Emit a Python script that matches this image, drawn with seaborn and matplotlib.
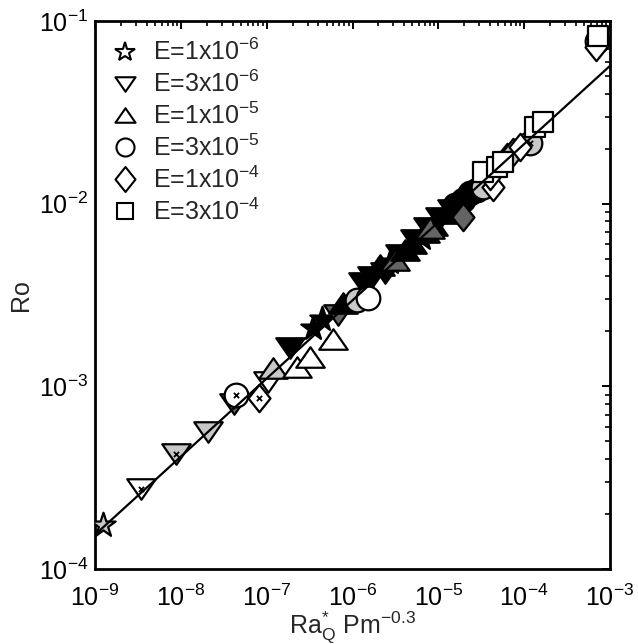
import numpy as np
import pandas as pd
import matplotlib
matplotlib.use("Agg")
import matplotlib.pyplot as plt
import seaborn as sns
from matplotlib.path import Path
from matplotlib.lines import Line2D

# ---------------- data ----------------
# E = 1e-6 (stars)
e1m6_x = [1.24e-9, 3.47e-7, 4.43e-7, 2.74e-6, 6.48e-6]
e1m6_y = [1.74e-4, 2.09e-3, 2.35e-3, 4.8e-3, 6.49e-3]
e1m6_fill = ["lg", "k", "k", "k", "k"]
e1m6_cross = [0, 0, 0, 0, 0]

# E = 3e-6 (down triangles)
e3m6_x = [3.44e-9, 8.79e-9, 2.07e-8, 4.17e-8, 1.04e-7, 1.88e-7, 6.8e-7, 1.33e-6,
          1.69e-6, 2.4e-6, 3.59e-6, 5.37e-6, 7.6e-6, 1.05e-5, 1.45e-5]
e3m6_y = [2.74e-4, 4.27e-4, 5.62e-4, 8.0e-4, 1.06e-3, 1.62e-3, 2.46e-3, 3.68e-3,
          3.97e-3, 4.18e-3, 5.24e-3, 6.33e-3, 7.36e-3, 8.36e-3, 9.24e-3]
e3m6_fill = ["w", "lg", "lg", "dg", "w", "k", "dg", "k",
             "k", "k", "k", "k", "k", "k", "k"]
e3m6_cross = [1, 1, 0, 0, 0, 0, 0, 0, 0, 0, 0, 0, 0, 0, 0]

# E = 1e-5 (up triangles)
e1m5_x = [1.19e-7, 2.26e-7, 5.94e-7, 3.2e-7, 7.77e-7, 2.1e-6, 3.14e-6, 4.1e-6,
          4.95e-6, 7.01e-6, 8.69e-6, 8.02e-6, 1.27e-5]
e1m5_y = [1.26e-3, 1.28e-3, 1.82e-3, 1.45e-3, 2.86e-3, 4.62e-3, 4.92e-3, 5.58e-3,
          6.09e-3, 7.0e-3, 7.64e-3, 7.36e-3, 8.9e-3]
e1m5_fill = ["lg", "w", "w", "w", "k", "k", "dg", "k", "k", "k", "k", "dg", "k"]
e1m5_cross = [0] * 13

# E = 3e-5 (circles)
e3m5_x = [4.4e-8, 1.13e-6, 1.52e-6, 1.57e-5, 1.95e-5, 2.35e-5, 2.83e-5, 3.33e-5, 1.17e-4, 7.1e-4]
e3m5_y = [8.97e-4, 2.97e-3, 3.05e-3, 9.84e-3, 1.05e-2, 1.15e-2, 1.19e-2, 1.23e-2, 2.15e-2, 7.78e-2]
e3m5_fill = ["w", "lg", "w", "k", "k", "k", "k", "lg", "lg", "w"]
e3m5_cross = [1, 0, 0, 0, 0, 0, 0, 0, 1, 1]

# E = 1e-4 (diamonds)
e1m4_x = [8.15e-8, 1.95e-5, 4.36e-5, 4.02e-5, 6.34e-5, 7.45e-5, 8.97e-5, 6.9e-4]
e1m4_y = [8.65e-4, 8.45e-3, 1.23e-2, 1.42e-2, 1.80e-2, 1.92e-2, 2.04e-2, 7.21e-2]
e1m4_fill = ["w", "dg", "w", "w", "lg", "lg", "w", "w"]
e1m4_cross = [1, 0, 0, 0, 0, 0, 0, 0]

# E = 3e-4 (squares)
e3m4_x = [3.33e-5, 4.84e-5, 5.69e-5, 1.35e-4, 1.65e-4, 7.3e-4]
e3m4_y = [1.49e-2, 1.59e-2, 1.69e-2, 2.63e-2, 2.80e-2, 8.28e-2]
e3m4_fill = ["w", "w", "w", "w", "w", "w"]
e3m4_cross = [0, 0, 0, 0, 0, 0]

# fit line (end points)
fit_x = [1e-9, 1e-3]
fit_y = [1.54e-4, 5.68e-2]

x_ticks = [1e-9, 1e-8, 1e-7, 1e-6, 1e-5, 1e-4, 1e-3]
y_ticks = [1e-4, 1e-3, 1e-2, 1e-1]

labels = [r"E=1x10$^{-6}$", r"E=3x10$^{-6}$", r"E=1x10$^{-5}$",
          r"E=3x10$^{-5}$", r"E=1x10$^{-4}$", r"E=3x10$^{-4}$"]

# ---------------- style ----------------
sns.set_style("white")
plt.rcParams["font.family"] = ["Liberation Sans", "DejaVu Sans"]
plt.rcParams["mathtext.fontset"] = "custom"
plt.rcParams["mathtext.rm"] = "Liberation Sans"
plt.rcParams["mathtext.it"] = "Liberation Sans"
plt.rcParams["mathtext.bf"] = "Liberation Sans:bold"
FS = 18
plt.rcParams["font.size"] = FS

fills = {"w": "#ffffff", "lg": "#c8c8c8", "dg": "#646464", "k": "#000000"}

tri_down = Path([(-1, 0.72), (1, 0.72), (0, -0.72), (-1, 0.72)], closed=True)
tri_up = Path([(-1, -0.72), (1, -0.72), (0, 0.72), (-1, -0.72)], closed=True)
diamond = Path([(0, 1), (0.8, 0), (0, -1), (-0.8, 0), (0, 1)], closed=True)

groups = [
    (e1m6_x, e1m6_y, e1m6_fill, e1m6_cross, "*", 340, 14.5),
    (e3m6_x, e3m6_y, e3m6_fill, e3m6_cross, tri_down, 420, 14.5),
    (e1m5_x, e1m5_y, e1m5_fill, e1m5_cross, tri_up, 420, 14.5),
    (e3m5_x, e3m5_y, e3m5_fill, e3m5_cross, "o", 290, 13),
    (e1m4_x, e1m4_y, e1m4_fill, e1m4_cross, diamond, 390, 18),
    (e3m4_x, e3m4_y, e3m4_fill, e3m4_cross, "s", 195, 11),
]

fig = plt.figure(figsize=(6.38, 6.44), dpi=100)
ax = fig.add_axes([95 / 638, 1 - 569 / 644, 515 / 638, 548 / 644])
ax.set_xscale("log")
ax.set_yscale("log")

sns.lineplot(x=fit_x, y=fit_y, color="k", linewidth=1.6, ax=ax, legend=False, zorder=50)

z = 4
for gx, gy, gf, gc, mk, sz, _ in groups:
    df = pd.DataFrame({"x": gx, "y": gy, "fill": gf, "cross": gc})
    for i in range(len(df)):
        row = df.iloc[[i]]
        sns.scatterplot(data=row, x="x", y="y", marker=mk, s=sz,
                        color=fills[row["fill"].iloc[0]], edgecolor="k",
                        linewidth=1.6, ax=ax, legend=False, zorder=z)
        z += 0.01
        if row["cross"].iloc[0]:
            sns.scatterplot(data=row, x="x", y="y", marker="x", s=14,
                            color="k", linewidth=1.3, ax=ax, legend=False, zorder=z)
            z += 0.01

ax.set_xlim(1e-9, 1e-3)
ax.set_ylim(1e-4, 1e-1)

for sp in ax.spines.values():
    sp.set_linewidth(2.0)
    sp.set_color("k")

fmt = matplotlib.ticker.LogFormatterSciNotation()
ax.xaxis.set_major_locator(matplotlib.ticker.FixedLocator(x_ticks))
ax.yaxis.set_major_locator(matplotlib.ticker.FixedLocator(y_ticks))
ax.xaxis.set_major_formatter(matplotlib.ticker.LogFormatterSciNotation())
ax.yaxis.set_major_formatter(matplotlib.ticker.LogFormatterSciNotation())
ax.xaxis.set_minor_locator(matplotlib.ticker.LogLocator(base=10, subs=np.arange(2, 10), numticks=100))
ax.yaxis.set_minor_locator(matplotlib.ticker.LogLocator(base=10, subs=np.arange(2, 10), numticks=100))
ax.xaxis.set_minor_formatter(matplotlib.ticker.NullFormatter())
ax.yaxis.set_minor_formatter(matplotlib.ticker.NullFormatter())

ax.tick_params(which="both", direction="in", top=True, right=True, colors="k",
               labelsize=FS)
ax.tick_params(which="major", length=6, width=1.4)
ax.tick_params(which="minor", length=3.5, width=1.2)
ax.tick_params(axis="x", which="major", pad=11)
ax.tick_params(axis="y", which="major", pad=5)

ax.set_xlabel(r"$\mathregular{Ra_Q^{*}\ Pm^{-0.3}}$", fontsize=FS)
ax.xaxis.set_label_coords(0.5, -0.073)
ax.set_ylabel("Ro", fontsize=FS)
ax.yaxis.set_label_coords(-0.12, 0.5)

handles = []
for (_, _, _, _, mk, _, ms), lab in zip(groups, labels):
    handles.append(Line2D([], [], linestyle="none", marker=mk, markersize=ms,
                          markerfacecolor="white", markeredgecolor="k",
                          markeredgewidth=1.5, label=lab))
leg = ax.legend(handles=handles, loc="upper left", bbox_to_anchor=(0.005, 0.99),
                frameon=False, fontsize=FS, handlelength=1.2, handletextpad=0.5,
                labelspacing=0.22, borderaxespad=0.3, borderpad=0.2)

fig.savefig("out.png", dpi=100)
